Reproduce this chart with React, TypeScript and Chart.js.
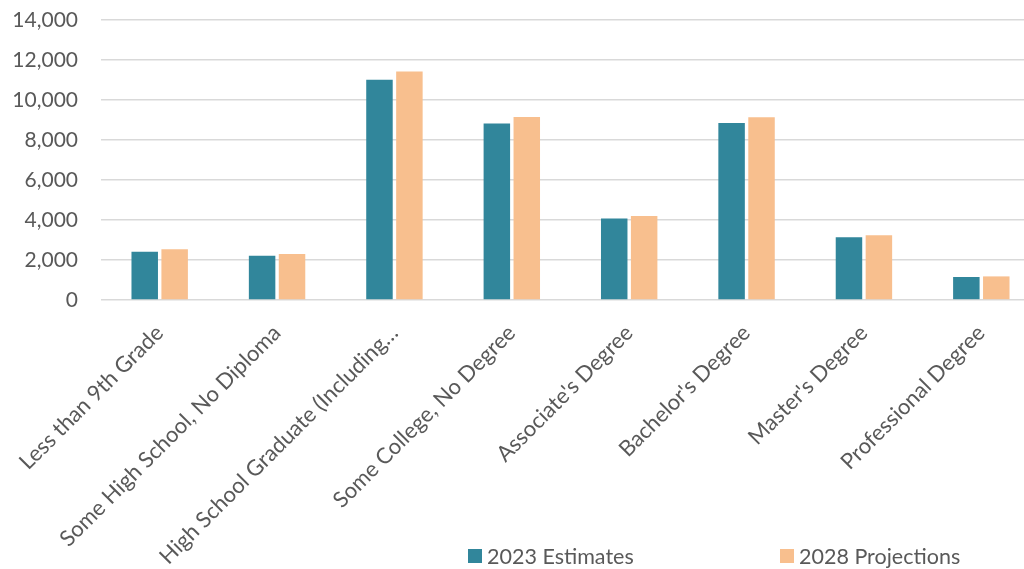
import React, { useEffect, useRef } from "react";
import { Chart, registerables } from "chart.js";

Chart.register(...registerables);

const categories: string[] = [
  "Less than 9th Grade",
  "Some High School, No Diploma",
  "High School Graduate (Including…",
  "Some College, No Degree",
  "Associate's Degree",
  "Bachelor's Degree",
  "Master's Degree",
  "Professional Degree",
];

const estimates2023: number[] = [2410, 2210, 11010, 8830, 4070, 8850, 3140, 1150];
const projections2028: number[] = [2540, 2300, 11430, 9150, 4200, 9140, 3240, 1180];

const seriesNames: string[] = ["2023 Estimates", "2028 Projections"];
const seriesColors: string[] = ["#31869B", "#F8BF8E"];

const FONT = "Lato, 'Open Sans', sans-serif";
const TEXT = "#595959";

export default function App() {
  const ref = useRef<HTMLCanvasElement | null>(null);

  useEffect(() => {
    if (!ref.current) return;
    const chart = new Chart(ref.current, {
      type: "bar",
      data: {
        labels: categories,
        datasets: [
          {
            label: seriesNames[0],
            data: estimates2023,
            backgroundColor: seriesColors[0],
            categoryPercentage: 0.51,
            barPercentage: 0.885,
          },
          {
            label: seriesNames[1],
            data: projections2028,
            backgroundColor: seriesColors[1],
            categoryPercentage: 0.51,
            barPercentage: 0.885,
          },
        ],
      },
      options: {
        responsive: false,
        animation: false,
        devicePixelRatio: 1,
        layout: { padding: { top: 20, left: 0, right: 0, bottom: 0 } },
        plugins: {
          legend: { display: false },
          tooltip: { enabled: false },
        },
        scales: {
          x: {
            grid: { display: false },
            border: { display: false },
            ticks: {
              autoSkip: false,
              minRotation: 45,
              maxRotation: 45,
              color: TEXT,
              font: { family: FONT, size: 22 },
              padding: 12,
            },
            afterFit: (scale: any) => {
              scale.height = 269;
            },
          },
          y: {
            min: 0,
            max: 14000,
            ticks: {
              stepSize: 2000,
              color: TEXT,
              font: { family: FONT, size: 21 },
              padding: 23,
              callback: (v: any) => Number(v).toLocaleString("en-US"),
            },
            grid: { color: "#D9D9D9", lineWidth: 1.6, drawTicks: false },
            border: { display: false },
            afterFit: (scale: any) => {
              scale.width = 101;
              scale.paddingTop = 0;
              scale.paddingBottom = 0;
            },
          },
        },
      },
    });
    return () => chart.destroy();
  }, []);

  const legendItem = (i: number, x: number) => (
    <div
      key={i}
      style={{
        position: "absolute",
        left: x,
        top: 543,
        height: 26,
        display: "flex",
        alignItems: "center",
        fontFamily: FONT,
        fontSize: 21.5,
        color: TEXT,
        whiteSpace: "nowrap",
      }}
    >
      <span
        style={{
          display: "inline-block",
          width: 14,
          height: 14,
          background: seriesColors[i],
          marginRight: 5,
        }}
      />
      <span>{seriesNames[i]}</span>
    </div>
  );

  return (
    <div
      style={{
        position: "fixed",
        left: 0,
        top: 0,
        width: 1024,
        height: 569,
        overflow: "hidden",
        background: "#fff",
      }}
    >
      <canvas ref={ref} width={1040} height={569} style={{ display: "block" }} />
      {legendItem(0, 468)}
      {legendItem(1, 780)}
    </div>
  );
}
